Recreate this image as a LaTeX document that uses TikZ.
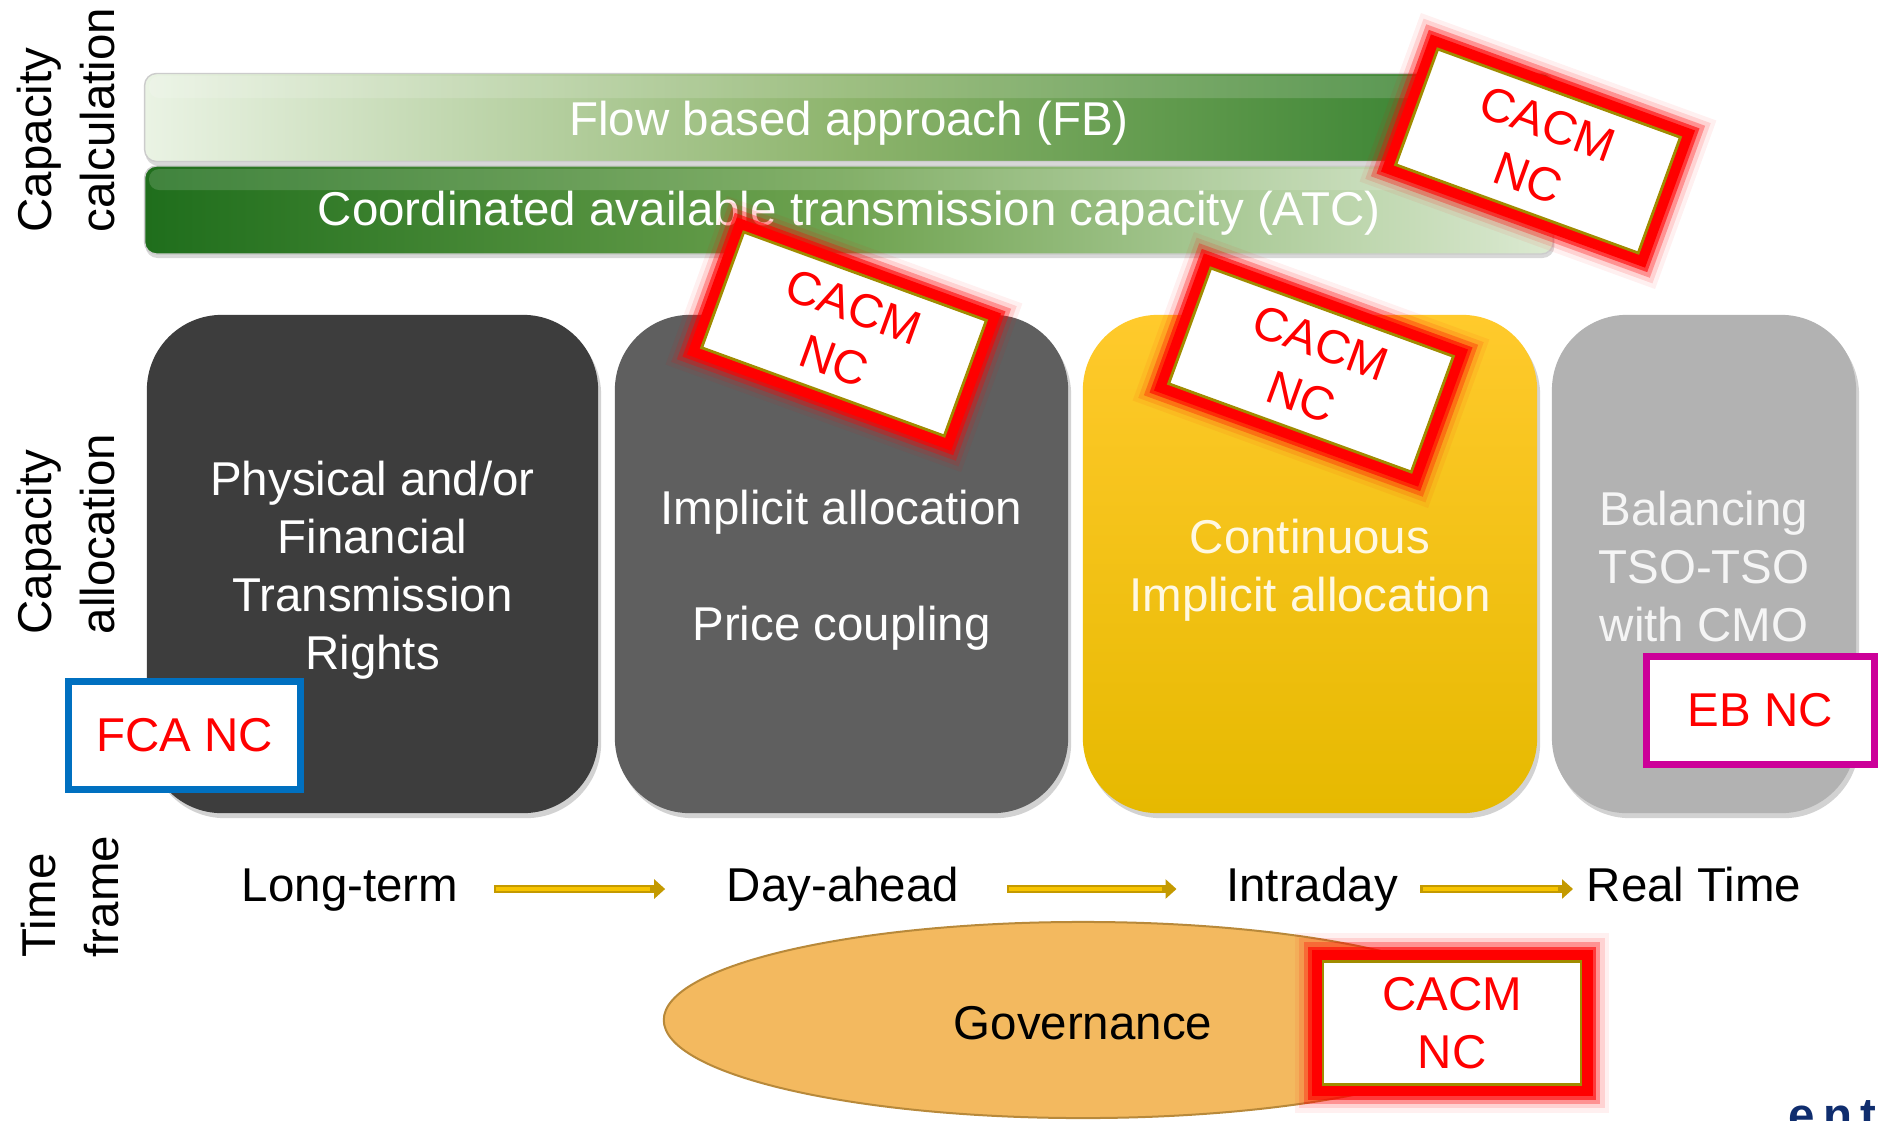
\documentclass[tikz,border=0pt]{standalone}
\usepackage{fontspec}
\setmainfont{Liberation Sans}
\usetikzlibrary{shadows,arrows.meta,shapes.geometric}
\definecolor{boxA}{HTML}{3D3D3D}
\definecolor{boxB}{HTML}{5F5F5F}
\definecolor{boxD}{HTML}{B2B2B2}
\definecolor{yelTop}{HTML}{FFCA2C}
\definecolor{yelBot}{HTML}{E6B900}
\definecolor{cacmgold}{HTML}{A08C00}
\definecolor{fcablue}{HTML}{0070C0}
\definecolor{ebmag}{HTML}{CC0099}
\definecolor{govfill}{HTML}{F3B95F}
\definecolor{govdraw}{HTML}{B8893A}
\definecolor{arrowdark}{HTML}{C49A00}
\definecolor{arrowlight}{HTML}{F7C400}
\definecolor{navy}{HTML}{0F2D6E}
\definecolor{fbL}{HTML}{EAF3E4}
\definecolor{fbM}{HTML}{8DB46C}
\definecolor{fbR}{HTML}{2B7B28}
\definecolor{atcL}{HTML}{1F6E1C}
\definecolor{atcM}{HTML}{6FA350}
\definecolor{atcR}{HTML}{DCEAD2}
\definecolor{paleyel}{HTML}{FFF8E2}
\begin{document}
\begin{tikzpicture}[x=0.01cm, y=-0.01cm,
  txt/.style={font=\fontsize{13.5}{16.5}\selectfont, inner sep=0pt, align=center},
  boxtxt/.style={txt, yshift=-0.06cm},
  side/.style={rotate=90, anchor=west, align=left, inner sep=0pt, font=\fontsize{13.5}{18}\selectfont},
  bar/.style={txt, rounded corners=0.12cm, minimum width=14.08cm, minimum height=0.88cm, draw=black!20, line width=0.4pt, drop shadow={shadow xshift=0.01cm, shadow yshift=-0.04cm, opacity=0.3}},
  allocbox/.style={txt, rounded corners=0.75cm, minimum height=4.98cm, drop shadow={shadow xshift=0.03cm, shadow yshift=-0.05cm, opacity=0.35}},
  cacm/.style={txt, text=red, draw=cacmgold, line width=0.8pt, fill=white, minimum width=2.58cm, minimum height=1.23cm,
    preaction={draw=red, draw opacity=0.06, line width=16pt},
    preaction={draw=red, draw opacity=0.12, line width=13.5pt},
    preaction={draw=red, draw opacity=0.3, line width=11pt},
    preaction={draw=red, draw opacity=0.6, line width=8.5pt},
    preaction={draw=red, line width=6.5pt}},
  ncbox/.style={txt, text=red, fill=white, line width=0.07cm},
  tf/.style={txt, text height=0.35cm, text depth=0.1cm},
  tfarrow/.style={draw=arrowdark, line width=0.085cm, -{Triangle[length=0.11cm,width=0.19cm]}},
  tfinner/.style={draw=arrowlight, line width=0.04cm},
]
\path[use as bounding box, fill=white] (0,0) rectangle (1878,1120);
\clip (0,0) rectangle (1878,1120);

% capacity calculation bars
\node[bar, left color=fbL, right color=fbR, middle color=fbM,
  label={[txt, text=white, yshift=-0.06cm]center:Flow based approach (FB)}] (fb) at (849,117.5) {};
\node[bar, left color=atcL, right color=atcR, middle color=atcM,
  label={[txt, text=white, yshift=-0.03cm]center:Coordinated available transmission capacity (ATC)}] (atc) at (849,210) {};
\fill[white, fill opacity=0.15, rounded corners=0.1cm] (149,76) rectangle (1549,98);
\fill[white, fill opacity=0.15, rounded corners=0.1cm] (149,169) rectangle (1549,190);

% capacity allocation boxes
\node[allocbox, fill=boxA, minimum width=4.51cm,
  label={[boxtxt, text=white]center:{Physical and/or\\Financial\\Transmission\\Rights}}] (b1) at (372.5,564) {};
\node[allocbox, fill=boxB, minimum width=4.53cm,
  label={[boxtxt, text=white]center:{Implicit allocation\\[16.5pt]Price coupling}}] (b2) at (841.5,564) {};
\node[allocbox, top color=yelTop, bottom color=yelBot, minimum width=4.54cm,
  label={[boxtxt, text=paleyel]center:{Continuous\\Implicit allocation}}] (b3) at (1310,564) {};
\node[allocbox, fill=boxD, minimum width=3.04cm,
  label={[txt, yshift=-0.025cm, text=white!96!black]center:{Balancing\\TSO-TSO\\with CMO}}] (b4) at (1704,564) {};

% side labels
\node[side] (cc) at (66,233) {Capacity\\calculation};
\node[side] (ca) at (66,635) {Capacity\\allocation};
\node[side] (tfl) at (70,958) {Time\\frame};

% time frame
\node[tf] (lt) at (350,889) {Long-term};
\node[tf] (da) at (843,889) {Day-ahead};
\node[tf] (id) at (1312,889) {Intraday};
\node[tf] (rt) at (1694,889) {Real Time};
\draw[tfarrow, shorten <=0.35cm, shorten >=0.61cm] (lt.east) -- (da.west);
\draw[tfinner, shorten <=0.37cm, shorten >=0.76cm] (lt.east) -- (da.west);
\draw[tfarrow, shorten <=0.47cm, shorten >=0.49cm] (da.east) -- (id.west);
\draw[tfinner, shorten <=0.49cm, shorten >=0.64cm] (da.east) -- (id.west);
\draw[tfarrow, shorten <=0.22cm, shorten >=0.13cm] (id.east) -- (rt.west);
\draw[tfinner, shorten <=0.24cm, shorten >=0.28cm] (id.east) -- (rt.west);

% governance
\node[ellipse, txt, fill=govfill, draw=govdraw, line width=0.02cm, minimum width=8.38cm, minimum height=1.96cm,
  label={[txt, yshift=-0.03cm]center:Governance}] (gov) at (1083,1020) {};

% CACM NC stickers
\node[cacm, rotate=-20] (c1) at (1538,151) {CACM\\NC};
\node[cacm, rotate=-20] (c2) at (844,334) {CACM\\NC};
\node[cacm, rotate=-20] (c3) at (1311,370) {CACM\\NC};
\node[cacm] (c4) at (1452,1023) {CACM\\NC};

% other network codes
\node[ncbox, draw=fcablue, minimum width=2.32cm, minimum height=1.08cm] (fca) at (184.5,735.5) {FCA NC};
\node[ncbox, draw=ebmag, minimum width=2.27cm, minimum height=1.07cm] (eb) at (1760.5,710.5) {EB NC};

% logo fragment
\node[anchor=base west, inner sep=0pt, text=navy, font=\fontsize{13.5}{13.5}\selectfont\bfseries] (logo) at (1788,1131) {e\kern0.08cm n\kern0.08cm t};
\end{tikzpicture}
\end{document}
